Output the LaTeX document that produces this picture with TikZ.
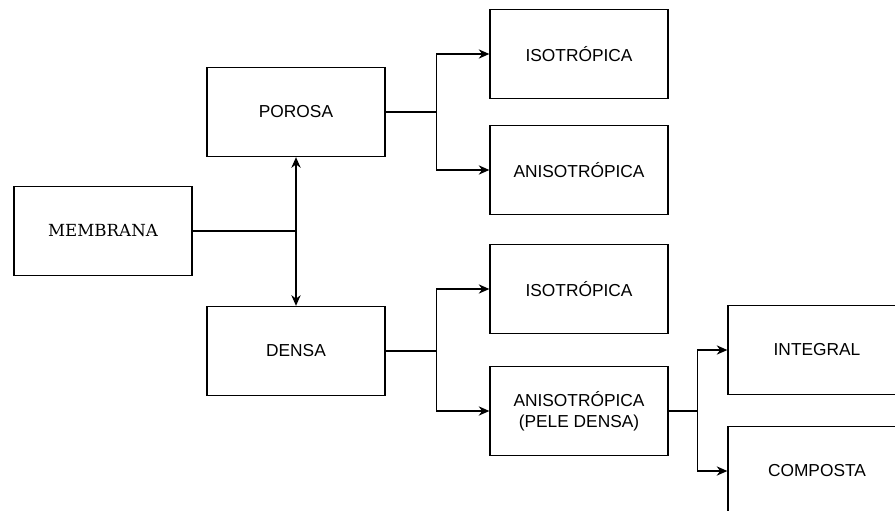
\documentclass[tikz,border=0pt]{standalone}
\usepackage{fontspec}
\setmainfont{Liberation Sans}
\newfontfamily\slabfont{DejaVu Serif}
\usetikzlibrary{arrows.meta}
\tikzset{
  block/.style={
    draw,
    rectangle,
    line width=1pt,
    minimum height=66.75pt,
    minimum width=133.5pt,
    align=center,
    font=\fontsize{13}{16}\selectfont
  },
  arrow/.style={
    -{Stealth[length=8pt,width=7pt]},line width=1pt}
}

\begin{document}
\begin{tikzpicture}[x=0.75pt, y=-0.75pt]
\useasboundingbox (0,0) rectangle (895,510);
\node[block, font=\slabfont\fontsize{12.5}{16}\selectfont] (membrana) at (103,231) {MEMBRANA};
\node[block] (porosa)   at (296,112) {POROSA};
\node[block] (densa)    at (296,351) {DENSA};
\node[block] (isoP)     at (579,54)  {ISOTRÓPICA};
\node[block] (anisoP)   at (579,170) {ANISOTRÓPICA};
\node[block] (isoD)     at (579,289) {ISOTRÓPICA};
\node[block] (anisoD)   at (579,411) {ANISOTRÓPICA\\(PELE DENSA)};
\node[block] (integral) at (817,350) {INTEGRAL};
\node[block] (composta) at (817,471) {COMPOSTA};

\coordinate (junc) at (296,231);
\draw[line width=1pt] (membrana.east) -- (junc);
\draw[arrow] (junc) -- (porosa.south);
\draw[arrow] (junc) -- (densa.north);

\draw[arrow] (porosa.east) -- ++(51,0) |- (isoP.west);
\draw[arrow] (porosa.east) -- ++(51,0) |- (anisoP.west);
\draw[arrow] (densa.east) -- ++(51,0) |- (isoD.west);
\draw[arrow] (densa.east) -- ++(51,0) |- (anisoD.west);
\draw[arrow] (anisoD.east) -- ++(29,0) |- (integral.west);
\draw[arrow] (anisoD.east) -- ++(29,0) |- (composta.west);
\end{tikzpicture}
\end{document}
